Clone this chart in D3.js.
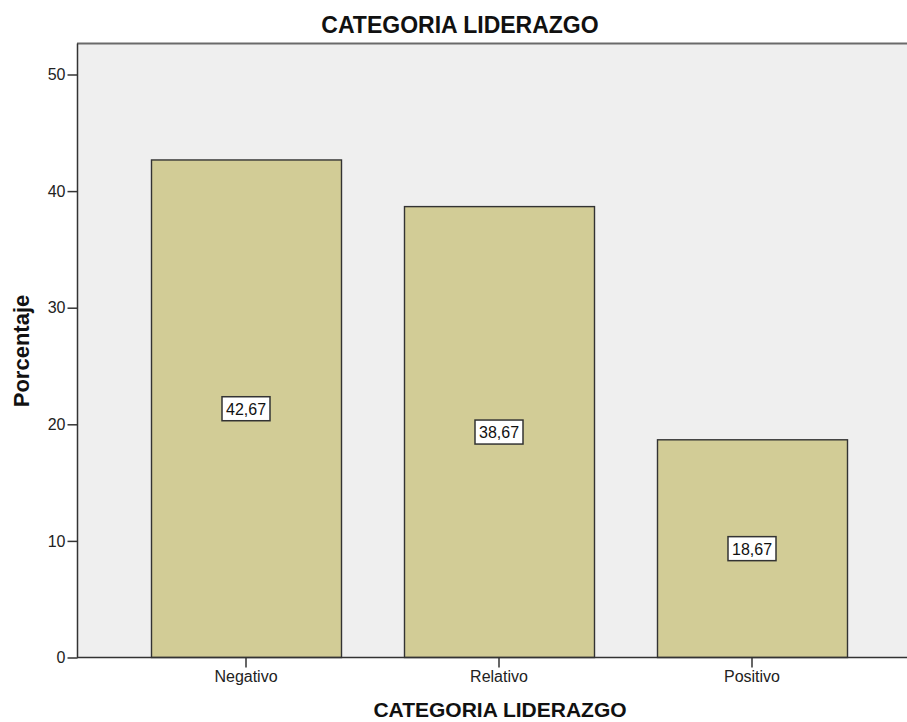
<!DOCTYPE html>
<html>
<head>
<meta charset="utf-8">
<script src="https://cdn.jsdelivr.net/npm/d3@7"></script>
<style>
  body { margin:0; background:#fff; }
  svg text { font-family: "Liberation Sans", Arial, sans-serif; }
</style>
</head>
<body>
<script>
// data
let categories = ["Negativo", "Relativo", "Positivo"];
let percents = [42.67, 38.67, 18.67];
let yTicks = [0, 10, 20, 30, 40, 50];

let screen = {width: 907, height: 722};
let plot = {left: 77, right: 907, top: 43, bottom: 657};

let svg = d3.select("body").append("svg")
    .attr("width", screen.width)
    .attr("height", screen.height);

let yScale = d3.scaleLinear()
    .domain([0, 50])
    .range([plot.bottom, 74]);

let xScale = d3.scaleBand()
    .domain(categories)
    .range([151, 847])
    .paddingInner(63 / 253)
    .paddingOuter(0);

// background
svg.append("rect")
    .attr("x", plot.left).attr("y", plot.top)
    .attr("width", plot.right - plot.left)
    .attr("height", plot.bottom - plot.top)
    .attr("fill", "#efefef");

// bars
svg.selectAll("rect.bar")
    .data(percents)
    .enter()
    .append("rect")
    .attr("class", "bar")
    .attr("x", (d, i) => xScale(categories[i]) + 0.5)
    .attr("y", d => yScale(d) + 0.5)
    .attr("width", xScale.bandwidth())
    .attr("height", d => plot.bottom - yScale(d))
    .attr("fill", "#d2cc96")
    .attr("stroke", "#333")
    .attr("stroke-width", 1.4);

// value labels
let lab = svg.selectAll("g.lab")
    .data(percents)
    .enter()
    .append("g")
    .attr("class", "lab")
    .attr("transform", (d, i) =>
        "translate(" + (xScale(categories[i]) + xScale.bandwidth() / 2) + "," + yScale(d / 2) + ")");
lab.append("rect")
    .attr("x", -24).attr("y", -11.5)
    .attr("width", 48).attr("height", 24)
    .attr("fill", "#fff")
    .attr("stroke", "#333")
    .attr("stroke-width", 1.5);
lab.append("text")
    .attr("text-anchor", "middle")
    .attr("y", 6.5)
    .style("font-size", "16px")
    .attr("fill", "#111")
    .text(d => d.toFixed(2).replace(".", ","));

// top border
svg.append("line")
    .attr("x1", plot.left).attr("x2", plot.right)
    .attr("y1", plot.top + 0.5).attr("y2", plot.top + 0.5)
    .attr("stroke", "#6a6a6a").attr("stroke-width", 2);

// y axis
let yAxis = svg.append("g")
    .attr("transform", "translate(" + (plot.left + 0.5) + ",0.5)")
    .call(d3.axisLeft(yScale).tickValues(yTicks).tickSize(10).tickPadding(2).tickFormat(d3.format("d")));
yAxis.select(".domain").attr("d", "M0," + plot.top + "V" + plot.bottom)
    .attr("stroke", "#333").attr("stroke-width", 1.5);
yAxis.selectAll(".tick line").attr("stroke", "#333").attr("stroke-width", 1.5);
yAxis.selectAll("text").style("font-size", "16px").attr("fill", "#222");

// x axis
let xAxis = svg.append("g")
    .attr("transform", "translate(0," + (plot.bottom + 0.5) + ")")
    .call(d3.axisBottom(xScale).tickSize(10).tickPadding(3));
xAxis.select(".domain").attr("d", "M" + plot.left + ",0H" + plot.right)
    .attr("stroke", "#333").attr("stroke-width", 1.5);
xAxis.selectAll(".tick line").attr("stroke", "#333").attr("stroke-width", 1.5);
xAxis.selectAll("text").style("font-size", "16px").attr("fill", "#222");

// titles
svg.append("text")
    .attr("x", 460).attr("y", 33)
    .attr("text-anchor", "middle")
    .style("font-size", "23px").style("font-weight", "bold")
    .attr("fill", "#111")
    .text("CATEGORIA LIDERAZGO");

svg.append("text")
    .attr("x", 500).attr("y", 717)
    .attr("text-anchor", "middle")
    .style("font-size", "21px").style("font-weight", "bold")
    .attr("fill", "#111")
    .text("CATEGORIA LIDERAZGO");

svg.append("text")
    .attr("transform", "translate(29,351) rotate(-90)")
    .attr("text-anchor", "middle")
    .style("font-size", "22px").style("font-weight", "bold")
    .attr("fill", "#111")
    .text("Porcentaje");
</script>
</body>
</html>
